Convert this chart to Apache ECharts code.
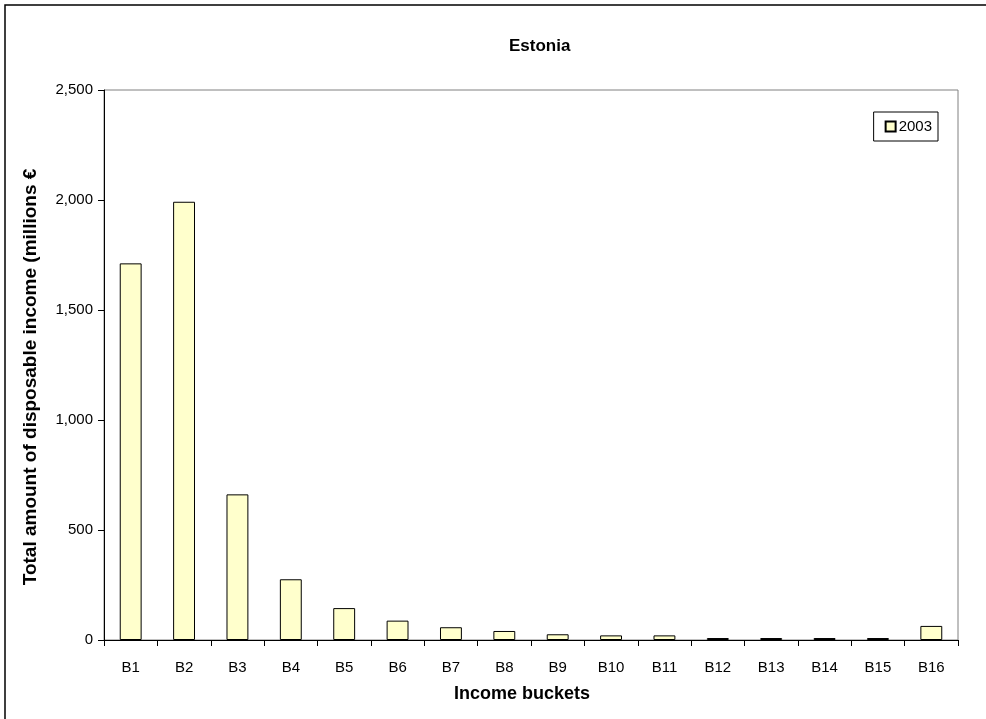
<!DOCTYPE html>
<html>
<head>
<meta charset="utf-8">
<script src="https://cdn.jsdelivr.net/npm/echarts@6/dist/echarts.min.js"></script>
<style>
html,body{margin:0;padding:0;background:#fff;}
#chart{width:986px;height:719px;}
</style>
</head>
<body>
<div id="chart"></div>
<script>
const categories = ['B1','B2','B3','B4','B5','B6','B7','B8','B9','B10','B11','B12','B13','B14','B15','B16'];
const values2003 = [1712, 1992, 662, 276, 145, 88, 58, 41, 26, 21, 21, 9, 9, 9, 9, 64];
const yTicks = [0, 500, 1000, 1500, 2000, 2500];
const seriesName = '2003';

const chart = echarts.init(document.getElementById('chart'), null, {renderer: 'canvas'});
const font = 'Liberation Sans, Arial, sans-serif';
chart.setOption({
  animation: false,
  backgroundColor: '#fff',
  graphic: [
    {type: 'rect', shape: {x: 5, y: 5, width: 990, height: 730}, style: {fill: 'none', stroke: '#000', lineWidth: 1.5}, silent: true},
    {type: 'rect', shape: {x: 104, y: 90, width: 854, height: 550}, style: {fill: 'none', stroke: '#808080', lineWidth: 1}, silent: true, z: -1}
  ],
  title: {
    text: 'Estonia', left: 504, top: 33,
    textStyle: {fontFamily: font, fontSize: 17, fontWeight: 'bold', color: '#000'}
  },
  legend: {
    data: [seriesName], right: 48, top: 112,
    orient: 'vertical',
    itemWidth: 10, itemHeight: 10, itemGap: 4,
    padding: [7, 6, 7, 11],
    borderColor: '#000', borderWidth: 1,
    textStyle: {fontFamily: font, fontSize: 15, color: '#000', padding: [0,0,0,-2]},
    icon: 'rect'
  },
  grid: {left: 104, right: 28, top: 90, bottom: 79, containLabel: false},
  xAxis: {
    type: 'category', data: categories,
    name: 'Income buckets', nameLocation: 'middle', nameGap: 45,
    nameTextStyle: {fontFamily: font, fontSize: 18, fontWeight: 'bold', color: '#000', padding: [0, 18, 0, 0]},
    axisLine: {lineStyle: {color: '#000', width: 1}},
    axisTick: {show: true, alignWithLabel: false, length: 6, lineStyle: {color: '#000'}},
    axisLabel: {fontFamily: font, fontSize: 15, color: '#000', margin: 20, interval: 0},
    splitLine: {show: false}
  },
  yAxis: {
    type: 'value', min: 0, max: 2500, interval: 500,
    name: 'Total amount of disposable income (millions €', nameLocation: 'middle', nameGap: 64,
    nameTextStyle: {fontFamily: font, fontSize: 19, fontWeight: 'bold', color: '#000', padding: [0, 24, 0, 0]},
    axisLine: {show: true, lineStyle: {color: '#000', width: 1}},
    axisTick: {show: true, length: 6, lineStyle: {color: '#000'}},
    axisLabel: {fontFamily: font, fontSize: 15, color: '#000', margin: 11,
      formatter: v => yTicks.includes(v) ? v.toLocaleString('en-US') : ''},
    splitLine: {show: false}
  },
  series: [{
    name: seriesName, type: 'bar', data: values2003,
    barCategoryGap: '59%',
    itemStyle: {color: '#FFFFCC', borderColor: '#000', borderWidth: 1}
  }]
});
</script>
</body>
</html>
